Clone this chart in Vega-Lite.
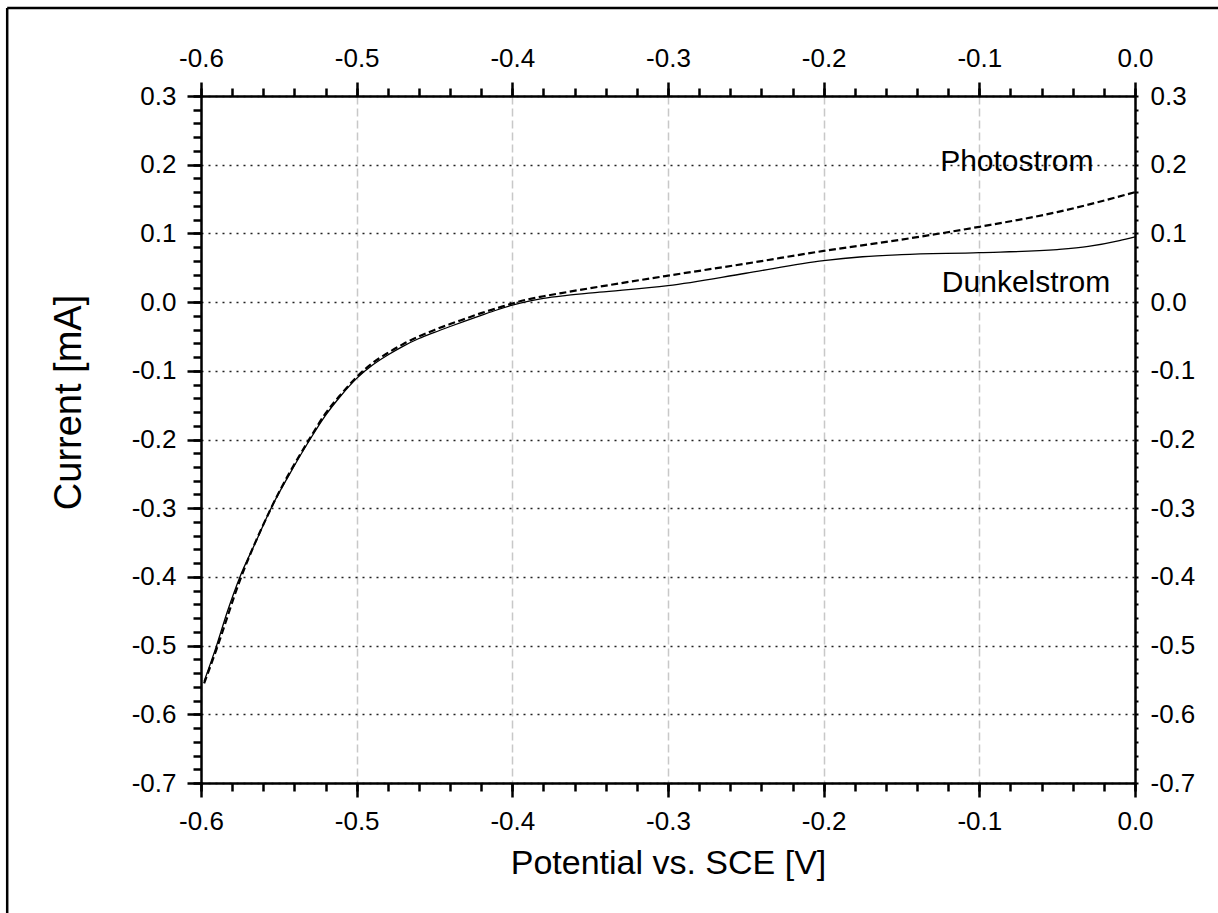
{
  "$schema": "https://vega.github.io/schema/vega-lite/v6.json",
  "width": 934,
  "height": 687,
  "autosize": "none",
  "padding": {"left": 201, "top": 96, "right": 83, "bottom": 130},
  "background": "white",
  "config": {
    "font": "Liberation Sans",
    "view": {"stroke": null},
    "axis": {
      "labelFont": "Liberation Sans",
      "titleFont": "Liberation Sans",
      "labelColor": "black",
      "titleColor": "black",
      "tickColor": "black",
      "domainColor": "black",
      "labelFontSize": 26,
      "titleFontSize": 34,
      "titleFontWeight": "normal",
      "labelFlush": false,
      "labelOverlap": false
    }
  },
  "datasets": {
    "curves": [
      {"series": "Dunkelstrom", "potential": -0.598, "current": -0.552},
      {"series": "Dunkelstrom", "potential": -0.59, "current": -0.5},
      {"series": "Dunkelstrom", "potential": -0.583, "current": -0.45},
      {"series": "Dunkelstrom", "potential": -0.575, "current": -0.4},
      {"series": "Dunkelstrom", "potential": -0.565, "current": -0.35},
      {"series": "Dunkelstrom", "potential": -0.555, "current": -0.3},
      {"series": "Dunkelstrom", "potential": -0.543, "current": -0.25},
      {"series": "Dunkelstrom", "potential": -0.53, "current": -0.2},
      {"series": "Dunkelstrom", "potential": -0.52, "current": -0.165},
      {"series": "Dunkelstrom", "potential": -0.51, "current": -0.136},
      {"series": "Dunkelstrom", "potential": -0.5, "current": -0.111},
      {"series": "Dunkelstrom", "potential": -0.49, "current": -0.092},
      {"series": "Dunkelstrom", "potential": -0.48, "current": -0.077},
      {"series": "Dunkelstrom", "potential": -0.47, "current": -0.064},
      {"series": "Dunkelstrom", "potential": -0.46, "current": -0.053},
      {"series": "Dunkelstrom", "potential": -0.45, "current": -0.044},
      {"series": "Dunkelstrom", "potential": -0.44, "current": -0.0355},
      {"series": "Dunkelstrom", "potential": -0.43, "current": -0.0273},
      {"series": "Dunkelstrom", "potential": -0.42, "current": -0.0193},
      {"series": "Dunkelstrom", "potential": -0.41, "current": -0.0115},
      {"series": "Dunkelstrom", "potential": -0.4, "current": -0.0045},
      {"series": "Dunkelstrom", "potential": -0.39, "current": 0.0012},
      {"series": "Dunkelstrom", "potential": -0.38, "current": 0.0055},
      {"series": "Dunkelstrom", "potential": -0.365, "current": 0.0098},
      {"series": "Dunkelstrom", "potential": -0.344, "current": 0.0144},
      {"series": "Dunkelstrom", "potential": -0.3, "current": 0.024},
      {"series": "Dunkelstrom", "potential": -0.25, "current": 0.042},
      {"series": "Dunkelstrom", "potential": -0.2, "current": 0.0605},
      {"series": "Dunkelstrom", "potential": -0.175, "current": 0.066},
      {"series": "Dunkelstrom", "potential": -0.15, "current": 0.069},
      {"series": "Dunkelstrom", "potential": -0.1, "current": 0.072},
      {"series": "Dunkelstrom", "potential": -0.05, "current": 0.0765},
      {"series": "Dunkelstrom", "potential": -0.03, "current": 0.081},
      {"series": "Dunkelstrom", "potential": -0.01, "current": 0.0895},
      {"series": "Dunkelstrom", "potential": 0.0, "current": 0.095},
      {"series": "Photostrom", "potential": -0.598, "current": -0.555},
      {"series": "Photostrom", "potential": -0.59, "current": -0.505},
      {"series": "Photostrom", "potential": -0.575, "current": -0.405},
      {"series": "Photostrom", "potential": -0.555, "current": -0.3},
      {"series": "Photostrom", "potential": -0.53, "current": -0.198},
      {"series": "Photostrom", "potential": -0.52, "current": -0.162},
      {"series": "Photostrom", "potential": -0.51, "current": -0.134},
      {"series": "Photostrom", "potential": -0.5, "current": -0.109},
      {"series": "Photostrom", "potential": -0.49, "current": -0.089},
      {"series": "Photostrom", "potential": -0.48, "current": -0.074},
      {"series": "Photostrom", "potential": -0.47, "current": -0.061},
      {"series": "Photostrom", "potential": -0.46, "current": -0.05},
      {"series": "Photostrom", "potential": -0.45, "current": -0.0405},
      {"series": "Photostrom", "potential": -0.44, "current": -0.032},
      {"series": "Photostrom", "potential": -0.43, "current": -0.024},
      {"series": "Photostrom", "potential": -0.42, "current": -0.016},
      {"series": "Photostrom", "potential": -0.41, "current": -0.009},
      {"series": "Photostrom", "potential": -0.4, "current": -0.002},
      {"series": "Photostrom", "potential": -0.39, "current": 0.004},
      {"series": "Photostrom", "potential": -0.38, "current": 0.0085},
      {"series": "Photostrom", "potential": -0.365, "current": 0.0145},
      {"series": "Photostrom", "potential": -0.344, "current": 0.0225},
      {"series": "Photostrom", "potential": -0.3, "current": 0.0385},
      {"series": "Photostrom", "potential": -0.25, "current": 0.056},
      {"series": "Photostrom", "potential": -0.2, "current": 0.0745},
      {"series": "Photostrom", "potential": -0.15, "current": 0.091},
      {"series": "Photostrom", "potential": -0.1, "current": 0.1096},
      {"series": "Photostrom", "potential": -0.05, "current": 0.131},
      {"series": "Photostrom", "potential": 0.0, "current": 0.16}
    ],
    "labels": [
      {"label": "Photostrom", "potential": -0.0759, "current": 0.1913},
      {"label": "Dunkelstrom", "potential": -0.07, "current": 0.0145}
    ]
  },
  "layer": [
    {
      "data": {"name": "curves"},
      "transform": [{"filter": "datum.series === 'Dunkelstrom'"}],
      "mark": {"type": "line", "color": "black", "strokeWidth": 1.3, "interpolate": "monotone"},
      "encoding": {
        "x": {
          "field": "potential", "type": "quantitative",
          "scale": {"domain": [-0.6, 0], "nice": false, "zero": false},
          "axis": {
            "orient": "bottom", "title": "Potential vs. SCE [V]",
            "values": [-0.6, -0.5, -0.4, -0.3, -0.2, -0.1, 0],
            "labelExpr": "(datum.value < -0.0001 ? '-' : '') + format(abs(datum.value), '.1f')",
            "tickSize": 14, "tickWidth": 2.5, "domainWidth": 2.5,
            "labelPadding": 11, "titlePadding": 12,
            "grid": true, "gridColor": "#c8c8c8", "gridDash": [8, 4], "gridWidth": 1.5
          }
        },
        "y": {
          "field": "current", "type": "quantitative",
          "scale": {"domain": [-0.7, 0.3], "nice": false, "zero": false},
          "axis": {
            "orient": "left", "title": "Current [mA]", "titleFontSize": 38, "titleY": 306,
            "values": [-0.7, -0.6, -0.5, -0.4, -0.3, -0.2, -0.1, 0, 0.1, 0.2, 0.3],
            "labelExpr": "(datum.value < -0.0001 ? '-' : '') + format(abs(datum.value), '.1f')",
            "tickSize": 14, "tickWidth": 2.5, "domainWidth": 2.5,
            "labelPadding": 11, "titlePadding": 43,
            "grid": true, "gridColor": "#222222", "gridDash": [2, 5], "gridWidth": 1.3
          }
        }
      }
    },
    {
      "data": {"name": "curves"},
      "transform": [{"filter": "datum.series === 'Photostrom'"}],
      "mark": {"type": "line", "color": "black", "strokeWidth": 2.2, "strokeDash": [7, 3.5], "interpolate": "monotone"},
      "encoding": {
        "x": {
          "field": "potential", "type": "quantitative",
          "scale": {"domain": [-0.6, 0], "nice": false, "zero": false},
          "axis": {
            "orient": "top", "title": null,
            "values": [-0.6, -0.5, -0.4, -0.3, -0.2, -0.1, 0],
            "labelExpr": "(datum.value < -0.0001 ? '-' : '') + format(abs(datum.value), '.1f')",
            "tickSize": 14, "tickWidth": 2.5, "domainWidth": 2.5,
            "labelPadding": 11, "grid": false
          }
        },
        "y": {
          "field": "current", "type": "quantitative",
          "scale": {"domain": [-0.7, 0.3], "nice": false, "zero": false},
          "axis": {
            "orient": "right", "title": null,
            "values": [-0.7, -0.6, -0.5, -0.4, -0.3, -0.2, -0.1, 0, 0.1, 0.2, 0.3],
            "labelExpr": "(datum.value < -0.0001 ? '-' : '') + format(abs(datum.value), '.1f')",
            "ticks": false, "domainWidth": 2.5,
            "labelPadding": 15, "grid": false
          }
        }
      }
    },
    {
      "data": {"name": "labels"},
      "transform": [{"filter": "datum.label === 'Photostrom'"}],
      "mark": {"type": "text", "font": "Liberation Sans", "fontSize": 30, "align": "center", "baseline": "alphabetic", "color": "black"},
      "encoding": {
        "text": {"field": "label"},
        "x": {
          "field": "potential", "type": "quantitative",
          "scale": {"domain": [-0.6, 0], "nice": false, "zero": false},
          "axis": {
            "orient": "bottom", "title": null, "labels": false, "domain": false, "grid": false,
            "tickSize": 8, "tickWidth": 2.5,
            "values": [-0.6,-0.58,-0.56,-0.54,-0.52,-0.5,-0.48,-0.46,-0.44,-0.42,-0.4,-0.38,-0.36,-0.34,-0.32,-0.3,-0.28,-0.26,-0.24,-0.22,-0.2,-0.18,-0.16,-0.14,-0.12,-0.1,-0.08,-0.06,-0.04,-0.02,0]
          }
        },
        "y": {
          "field": "current", "type": "quantitative",
          "scale": {"domain": [-0.7, 0.3], "nice": false, "zero": false},
          "axis": {
            "orient": "left", "title": null, "labels": false, "domain": false, "grid": false,
            "tickSize": 8, "tickWidth": 2.5,
            "values": [-0.7,-0.68,-0.66,-0.64,-0.62,-0.6,-0.58,-0.56,-0.54,-0.52,-0.5,-0.48,-0.46,-0.44,-0.42,-0.4,-0.38,-0.36,-0.34,-0.32,-0.3,-0.28,-0.26,-0.24,-0.22,-0.2,-0.18,-0.16,-0.14,-0.12,-0.1,-0.08,-0.06,-0.04,-0.02,0,0.02,0.04,0.06,0.08,0.1,0.12,0.14,0.16,0.18,0.2,0.22,0.24,0.26,0.28,0.3]
          }
        }
      }
    },
    {
      "data": {"name": "labels"},
      "transform": [{"filter": "datum.label === 'Dunkelstrom'"}],
      "mark": {"type": "text", "font": "Liberation Sans", "fontSize": 30, "align": "center", "baseline": "alphabetic", "color": "black"},
      "encoding": {
        "text": {"field": "label"},
        "x": {
          "field": "potential", "type": "quantitative",
          "scale": {"domain": [-0.6, 0], "nice": false, "zero": false},
          "axis": {
            "orient": "top", "title": null, "labels": false, "domain": false, "grid": false,
            "tickSize": 8, "tickWidth": 2.5,
            "values": [-0.6,-0.58,-0.56,-0.54,-0.52,-0.5,-0.48,-0.46,-0.44,-0.42,-0.4,-0.38,-0.36,-0.34,-0.32,-0.3,-0.28,-0.26,-0.24,-0.22,-0.2,-0.18,-0.16,-0.14,-0.12,-0.1,-0.08,-0.06,-0.04,-0.02,0]
          }
        },
        "y": {
          "field": "current", "type": "quantitative",
          "scale": {"domain": [-0.7, 0.3], "nice": false, "zero": false},
          "axis": {
            "orient": "right", "title": null, "labels": false, "domain": false, "grid": false,
            "tickSize": 3, "tickWidth": 2,
            "values": [-0.7,-0.68,-0.66,-0.64,-0.62,-0.6,-0.58,-0.56,-0.54,-0.52,-0.5,-0.48,-0.46,-0.44,-0.42,-0.4,-0.38,-0.36,-0.34,-0.32,-0.3,-0.28,-0.26,-0.24,-0.22,-0.2,-0.18,-0.16,-0.14,-0.12,-0.1,-0.08,-0.06,-0.04,-0.02,0,0.02,0.04,0.06,0.08,0.1,0.12,0.14,0.16,0.18,0.2,0.22,0.24,0.26,0.28,0.3]
          }
        }
      }
    },
    {
      "data": {"values": [{}]},
      "mark": {"type": "rule", "color": "black", "strokeWidth": 2.5},
      "encoding": {
        "x": {"datum": -0.7245, "type": "quantitative", "axis": null},
        "y": {"datum": 0.428, "type": "quantitative", "axis": null},
        "y2": {"datum": -0.95}
      }
    },
    {
      "data": {"values": [{}]},
      "mark": {"type": "rule", "color": "black", "strokeWidth": 2.5},
      "encoding": {
        "x": {"datum": -0.7245, "type": "quantitative", "axis": null},
        "x2": {"datum": 0.07},
        "y": {"datum": 0.428, "type": "quantitative", "axis": null}
      }
    }
  ],
  "resolve": {"axis": {"x": "independent", "y": "independent"}}
}
